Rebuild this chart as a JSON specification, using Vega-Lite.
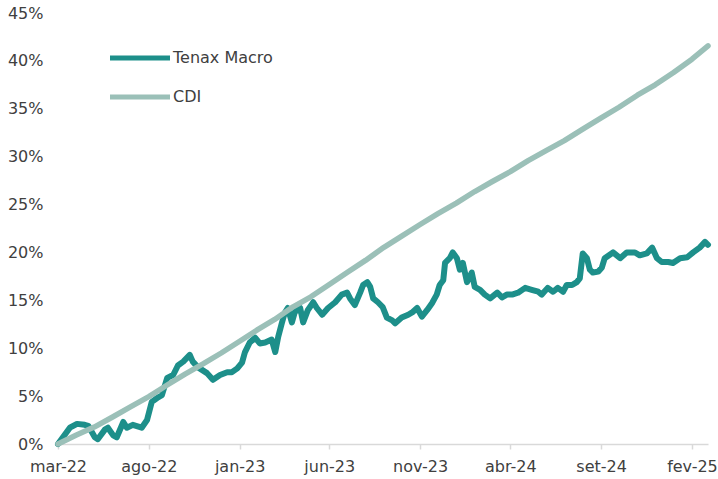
{
  "$schema": "https://vega.github.io/schema/vega-lite/v6.json",
  "width": 650,
  "height": 431,
  "autosize": {"type": "none"},
  "padding": {"left": 58, "top": 13, "right": 10, "bottom": 35},
  "background": "white",
  "config": {"view": {"stroke": null}, "font": "DejaVu Sans"},
  "data": {"values": [
    {"date":"2022-03-01","series":"Tenax Macro","value":0.0},
    {"date":"2022-03-21","series":"Tenax Macro","value":1.7},
    {"date":"2022-04-02","series":"Tenax Macro","value":2.1},
    {"date":"2022-04-15","series":"Tenax Macro","value":2.0},
    {"date":"2022-04-21","series":"Tenax Macro","value":1.9},
    {"date":"2022-05-02","series":"Tenax Macro","value":0.7},
    {"date":"2022-05-07","series":"Tenax Macro","value":0.5},
    {"date":"2022-05-19","series":"Tenax Macro","value":1.5},
    {"date":"2022-05-24","series":"Tenax Macro","value":1.7},
    {"date":"2022-06-02","series":"Tenax Macro","value":0.9},
    {"date":"2022-06-08","series":"Tenax Macro","value":0.7},
    {"date":"2022-06-19","series":"Tenax Macro","value":2.3},
    {"date":"2022-06-25","series":"Tenax Macro","value":1.7},
    {"date":"2022-07-05","series":"Tenax Macro","value":2.0},
    {"date":"2022-07-20","series":"Tenax Macro","value":1.7},
    {"date":"2022-07-29","series":"Tenax Macro","value":2.5},
    {"date":"2022-08-06","series":"Tenax Macro","value":4.4},
    {"date":"2022-08-15","series":"Tenax Macro","value":4.8},
    {"date":"2022-08-23","series":"Tenax Macro","value":5.1},
    {"date":"2022-09-01","series":"Tenax Macro","value":6.9},
    {"date":"2022-09-11","series":"Tenax Macro","value":7.2},
    {"date":"2022-09-19","series":"Tenax Macro","value":8.2},
    {"date":"2022-09-28","series":"Tenax Macro","value":8.6},
    {"date":"2022-10-09","series":"Tenax Macro","value":9.3},
    {"date":"2022-10-14","series":"Tenax Macro","value":8.6},
    {"date":"2022-10-23","series":"Tenax Macro","value":8.0},
    {"date":"2022-11-07","series":"Tenax Macro","value":7.4},
    {"date":"2022-11-17","series":"Tenax Macro","value":6.7},
    {"date":"2022-11-29","series":"Tenax Macro","value":7.2},
    {"date":"2022-12-11","series":"Tenax Macro","value":7.5},
    {"date":"2022-12-19","series":"Tenax Macro","value":7.5},
    {"date":"2022-12-28","series":"Tenax Macro","value":7.9},
    {"date":"2023-01-05","series":"Tenax Macro","value":8.5},
    {"date":"2023-01-10","series":"Tenax Macro","value":9.6},
    {"date":"2023-01-18","series":"Tenax Macro","value":10.6},
    {"date":"2023-01-27","series":"Tenax Macro","value":11.1},
    {"date":"2023-02-04","series":"Tenax Macro","value":10.5},
    {"date":"2023-02-13","series":"Tenax Macro","value":10.6},
    {"date":"2023-02-24","series":"Tenax Macro","value":10.9},
    {"date":"2023-03-02","series":"Tenax Macro","value":9.6},
    {"date":"2023-03-07","series":"Tenax Macro","value":11.2},
    {"date":"2023-03-13","series":"Tenax Macro","value":12.6},
    {"date":"2023-03-18","series":"Tenax Macro","value":13.7},
    {"date":"2023-03-23","series":"Tenax Macro","value":14.2},
    {"date":"2023-03-30","series":"Tenax Macro","value":12.7},
    {"date":"2023-04-04","series":"Tenax Macro","value":13.8},
    {"date":"2023-04-13","series":"Tenax Macro","value":14.2},
    {"date":"2023-04-18","series":"Tenax Macro","value":12.7},
    {"date":"2023-04-26","series":"Tenax Macro","value":14.0},
    {"date":"2023-05-05","series":"Tenax Macro","value":14.8},
    {"date":"2023-05-11","series":"Tenax Macro","value":14.2},
    {"date":"2023-05-20","series":"Tenax Macro","value":13.5},
    {"date":"2023-05-30","series":"Tenax Macro","value":14.2},
    {"date":"2023-06-11","series":"Tenax Macro","value":14.8},
    {"date":"2023-06-22","series":"Tenax Macro","value":15.6},
    {"date":"2023-07-01","series":"Tenax Macro","value":15.8},
    {"date":"2023-07-06","series":"Tenax Macro","value":15.2},
    {"date":"2023-07-14","series":"Tenax Macro","value":14.5},
    {"date":"2023-07-23","series":"Tenax Macro","value":15.8},
    {"date":"2023-07-28","series":"Tenax Macro","value":16.6},
    {"date":"2023-08-04","series":"Tenax Macro","value":16.9},
    {"date":"2023-08-09","series":"Tenax Macro","value":16.4},
    {"date":"2023-08-14","series":"Tenax Macro","value":15.2},
    {"date":"2023-08-22","series":"Tenax Macro","value":14.8},
    {"date":"2023-08-30","series":"Tenax Macro","value":14.3},
    {"date":"2023-09-06","series":"Tenax Macro","value":13.2},
    {"date":"2023-09-15","series":"Tenax Macro","value":12.9},
    {"date":"2023-09-20","series":"Tenax Macro","value":12.6},
    {"date":"2023-10-01","series":"Tenax Macro","value":13.2},
    {"date":"2023-10-12","series":"Tenax Macro","value":13.5},
    {"date":"2023-10-20","series":"Tenax Macro","value":13.8},
    {"date":"2023-10-27","series":"Tenax Macro","value":14.2},
    {"date":"2023-11-04","series":"Tenax Macro","value":13.3},
    {"date":"2023-11-13","series":"Tenax Macro","value":14.0},
    {"date":"2023-11-21","series":"Tenax Macro","value":14.7},
    {"date":"2023-11-29","series":"Tenax Macro","value":15.6},
    {"date":"2023-12-04","series":"Tenax Macro","value":16.6},
    {"date":"2023-12-10","series":"Tenax Macro","value":17.1},
    {"date":"2023-12-13","series":"Tenax Macro","value":18.9},
    {"date":"2023-12-21","series":"Tenax Macro","value":19.4},
    {"date":"2023-12-26","series":"Tenax Macro","value":20.0},
    {"date":"2024-01-02","series":"Tenax Macro","value":19.4},
    {"date":"2024-01-07","series":"Tenax Macro","value":18.2},
    {"date":"2024-01-12","series":"Tenax Macro","value":18.9},
    {"date":"2024-01-19","series":"Tenax Macro","value":16.9},
    {"date":"2024-01-27","series":"Tenax Macro","value":17.9},
    {"date":"2024-02-01","series":"Tenax Macro","value":16.4},
    {"date":"2024-02-10","series":"Tenax Macro","value":16.1},
    {"date":"2024-02-18","series":"Tenax Macro","value":15.6},
    {"date":"2024-02-27","series":"Tenax Macro","value":15.2},
    {"date":"2024-03-10","series":"Tenax Macro","value":15.8},
    {"date":"2024-03-18","series":"Tenax Macro","value":15.3},
    {"date":"2024-03-26","series":"Tenax Macro","value":15.6},
    {"date":"2024-04-04","series":"Tenax Macro","value":15.6},
    {"date":"2024-04-14","series":"Tenax Macro","value":15.8},
    {"date":"2024-04-26","series":"Tenax Macro","value":16.3},
    {"date":"2024-05-07","series":"Tenax Macro","value":16.1},
    {"date":"2024-05-18","series":"Tenax Macro","value":15.9},
    {"date":"2024-05-24","series":"Tenax Macro","value":15.6},
    {"date":"2024-06-03","series":"Tenax Macro","value":16.3},
    {"date":"2024-06-12","series":"Tenax Macro","value":15.9},
    {"date":"2024-06-20","series":"Tenax Macro","value":16.3},
    {"date":"2024-06-29","series":"Tenax Macro","value":15.9},
    {"date":"2024-07-05","series":"Tenax Macro","value":16.6},
    {"date":"2024-07-14","series":"Tenax Macro","value":16.6},
    {"date":"2024-07-22","series":"Tenax Macro","value":16.9},
    {"date":"2024-07-27","series":"Tenax Macro","value":17.3},
    {"date":"2024-08-01","series":"Tenax Macro","value":19.9},
    {"date":"2024-08-08","series":"Tenax Macro","value":19.4},
    {"date":"2024-08-13","series":"Tenax Macro","value":18.2},
    {"date":"2024-08-18","series":"Tenax Macro","value":17.9},
    {"date":"2024-08-27","series":"Tenax Macro","value":18.0},
    {"date":"2024-09-02","series":"Tenax Macro","value":18.4},
    {"date":"2024-09-07","series":"Tenax Macro","value":19.4},
    {"date":"2024-09-21","series":"Tenax Macro","value":20.0},
    {"date":"2024-10-03","series":"Tenax Macro","value":19.4},
    {"date":"2024-10-14","series":"Tenax Macro","value":20.0},
    {"date":"2024-10-28","series":"Tenax Macro","value":20.0},
    {"date":"2024-11-05","series":"Tenax Macro","value":19.7},
    {"date":"2024-11-17","series":"Tenax Macro","value":19.9},
    {"date":"2024-11-26","series":"Tenax Macro","value":20.5},
    {"date":"2024-12-04","series":"Tenax Macro","value":19.4},
    {"date":"2024-12-12","series":"Tenax Macro","value":19.0},
    {"date":"2024-12-23","series":"Tenax Macro","value":19.0},
    {"date":"2024-12-31","series":"Tenax Macro","value":18.9},
    {"date":"2025-01-12","series":"Tenax Macro","value":19.4},
    {"date":"2025-01-24","series":"Tenax Macro","value":19.5},
    {"date":"2025-02-03","series":"Tenax Macro","value":20.0},
    {"date":"2025-02-14","series":"Tenax Macro","value":20.5},
    {"date":"2025-02-23","series":"Tenax Macro","value":21.1},
    {"date":"2025-02-28","series":"Tenax Macro","value":20.8},
    {"date":"2022-03-01","series":"CDI","value":0.0},
    {"date":"2022-04-01","series":"CDI","value":0.93},
    {"date":"2022-05-01","series":"CDI","value":1.77},
    {"date":"2022-06-01","series":"CDI","value":2.82},
    {"date":"2022-07-01","series":"CDI","value":3.87},
    {"date":"2022-08-01","series":"CDI","value":4.94},
    {"date":"2022-09-01","series":"CDI","value":6.16},
    {"date":"2022-10-01","series":"CDI","value":7.30},
    {"date":"2022-11-01","series":"CDI","value":8.39},
    {"date":"2022-12-01","series":"CDI","value":9.50},
    {"date":"2023-01-01","series":"CDI","value":10.73},
    {"date":"2023-02-01","series":"CDI","value":11.97},
    {"date":"2023-03-01","series":"CDI","value":13.00},
    {"date":"2023-04-01","series":"CDI","value":14.32},
    {"date":"2023-05-01","series":"CDI","value":15.37},
    {"date":"2023-06-01","series":"CDI","value":16.66},
    {"date":"2023-07-01","series":"CDI","value":17.91},
    {"date":"2023-08-01","series":"CDI","value":19.17},
    {"date":"2023-09-01","series":"CDI","value":20.53},
    {"date":"2023-10-01","series":"CDI","value":21.70},
    {"date":"2023-11-01","series":"CDI","value":22.92},
    {"date":"2023-12-01","series":"CDI","value":24.05},
    {"date":"2024-01-01","series":"CDI","value":25.15},
    {"date":"2024-02-01","series":"CDI","value":26.36},
    {"date":"2024-03-01","series":"CDI","value":27.38},
    {"date":"2024-04-01","series":"CDI","value":28.43},
    {"date":"2024-05-01","series":"CDI","value":29.58},
    {"date":"2024-06-01","series":"CDI","value":30.65},
    {"date":"2024-07-01","series":"CDI","value":31.68},
    {"date":"2024-08-01","series":"CDI","value":32.88},
    {"date":"2024-09-01","series":"CDI","value":34.04},
    {"date":"2024-10-01","series":"CDI","value":35.16},
    {"date":"2024-11-01","series":"CDI","value":36.42},
    {"date":"2024-12-01","series":"CDI","value":37.50},
    {"date":"2025-01-01","series":"CDI","value":38.78},
    {"date":"2025-02-01","series":"CDI","value":40.18},
    {"date":"2025-02-28","series":"CDI","value":41.57}
  ]},
  "encoding": {
    "x": {
      "field": "date", "type": "temporal",
      "scale": {"type": "utc", "domain": [
        {"year": 2022, "month": 3, "date": 1, "utc": true},
        {"year": 2025, "month": 2, "date": 28, "utc": true}
      ]},
      "axis": {
        "title": null, "grid": false,
        "values": [
          {"year": 2022, "month": 3, "date": 1, "utc": true},
          {"year": 2022, "month": 8, "date": 1, "utc": true},
          {"year": 2023, "month": 1, "date": 1, "utc": true},
          {"year": 2023, "month": 6, "date": 1, "utc": true},
          {"year": 2023, "month": 11, "date": 1, "utc": true},
          {"year": 2024, "month": 4, "date": 1, "utc": true},
          {"year": 2024, "month": 9, "date": 1, "utc": true},
          {"year": 2025, "month": 2, "date": 1, "utc": true}
        ],
        "labelExpr": "['jan','fev','mar','abr','mai','jun','jul','ago','set','out','nov','dez'][utcmonth(datum.value)] + '-' + utcFormat(datum.value, '%y')",
        "domainColor": "#d9d9d9", "domainWidth": 1.5,
        "tickColor": "#d9d9d9", "tickWidth": 1.5, "tickSize": 5,
        "labelPadding": 9, "labelFontSize": 16, "labelColor": "#404040",
        "labelFlush": false, "labelOverlap": false
      }
    },
    "y": {
      "field": "value", "type": "quantitative",
      "scale": {"domain": [0, 45], "nice": false},
      "axis": {
        "title": null, "grid": false, "domain": false, "ticks": false,
        "values": [0, 5, 10, 15, 20, 25, 30, 35, 40, 45],
        "labelExpr": "datum.value + '%'",
        "labelPadding": 15, "labelFontSize": 16, "labelColor": "#404040"
      }
    },
    "color": {
      "field": "series", "type": "nominal",
      "scale": {"domain": ["Tenax Macro", "CDI"], "range": ["#1d8f8a", "#9bc0b8"]},
      "legend": {
        "title": null, "orient": "none", "legendX": 74, "legendY": 37,
        "padding": 0,
        "symbolType": "M-6,0L6,0", "symbolSize": 100, "symbolStrokeWidth": 5,
        "labelOffset": 25, "labelFontSize": 16, "labelColor": "#404040",
        "rowPadding": 19
      }
    }
  },
  "layer": [
    {
      "transform": [{"filter": "datum.series === 'Tenax Macro'"}],
      "mark": {"type": "line", "strokeWidth": 6, "strokeJoin": "round", "strokeCap": "round"}
    },
    {
      "transform": [{"filter": "datum.series === 'CDI'"}],
      "mark": {"type": "line", "strokeWidth": 5.5, "strokeJoin": "round", "strokeCap": "round"}
    }
  ]
}
